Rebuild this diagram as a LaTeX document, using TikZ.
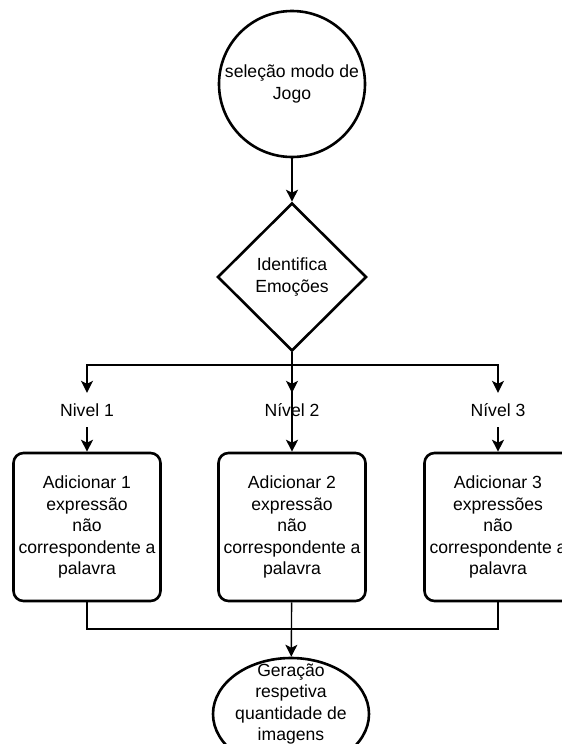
\documentclass[tikz,border=0pt]{standalone}
\usepackage{fontspec}
\setmainfont{Liberation Sans}
\usetikzlibrary{shapes.geometric,arrows.meta}

\tikzset{
  forma/.style={draw, line width=2.6pt, align=center, inner sep=0pt,
    font=\fontsize{17.6}{21.5}\selectfont},
  caixa/.style={forma, rectangle, rounded corners=10pt,
    minimum width=147pt, minimum height=148pt},
  nivel/.style={inner sep=0pt, minimum height=34pt,
    font=\fontsize{17.6}{21.5}\selectfont},
  seta/.style={line width=1.4pt, -{Stealth[length=12pt,width=12pt,inset=3pt]}},
  linha/.style={line width=1.4pt}
}

\begin{document}
\begin{tikzpicture}[x=1pt,y=-1pt]
  \useasboundingbox (0,0) rectangle (562,744);
  \clip (0,0) rectangle (562,744);

  \node[forma, circle, minimum size=146pt] (selecao) at (292,84) {sele\c{c}\~ao modo de\\Jogo};
  \node[forma, diamond, minimum width=149pt, minimum height=148pt] (identifica) at (292,277) {Identifica\\Emo\c{c}\~oes};

  \node[nivel] (n1) at (87,410) {Nivel 1};
  \node[nivel] (n2) at (292,410) {N\'ivel 2};
  \node[nivel] (n3) at (498,410) {N\'ivel 3};

  \node[caixa] (caixa1) at (87,527) {Adicionar 1\\express\~ao\\n\~ao\\correspondente a\\palavra};
  \node[caixa] (caixa2) at (292,527) {Adicionar 2\\express\~ao\\n\~ao\\correspondente a\\palavra};
  \node[caixa] (caixa3) at (498,527) {Adicionar 3\\express\~oes\\n\~ao\\correspondente a\\palavra};

  \node[forma, ellipse, minimum width=156pt, minimum height=112pt] (geracao) at (291,714) {};
  \node[nivel, align=center] (geracaotexto) at (291,704) {Gera\c{c}\~ao\\respetiva\\quantidade de\\imagens};

  \coordinate (topo) at (292,365);
  \coordinate (fundo) at (292,629);

  % ligacoes
  \draw[seta] (selecao) -- (identifica);
  \draw[seta] (identifica.south) -- (topo) -| (n1);
  \draw[seta] (topo) -| (n3);
  \draw[seta] (identifica.south) -- (n2);
  \draw[seta] (topo) -- (caixa2);
  \draw[seta] (n1) -- (caixa1);
  \draw[seta] (n3) -- (caixa3);
  \draw[linha] (caixa1) |- (fundo);
  \draw[linha] (caixa3) |- (fundo);
  \draw[seta] (caixa2) -- (geracao);
\end{tikzpicture}
\end{document}
